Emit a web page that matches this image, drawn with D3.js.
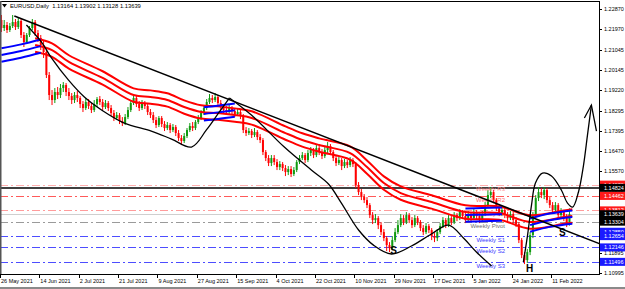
<!DOCTYPE html>
<html>
<head>
<meta charset="utf-8">
<script src="https://cdnjs.cloudflare.com/ajax/libs/d3/7.8.5/d3.min.js"></script>
<style>
body { margin: 0; background: #fff; }
svg { display: block; font-family: "Liberation Sans", Arial, sans-serif; }
</style>
</head>
<body>
<div class="chart"></div>
<script>
// EURUSD daily candles
var symbolTitle = "EURUSD,Daily";
var lastQuote = ["1.13164", "1.13902", "1.13128", "1.13639"];

var dateLabels = ["26 May 2021", "14 Jun 2021", "2 Jul 2021", "21 Jul 2021", "9 Aug 2021", "27 Aug 2021", "15 Sep 2021",
    "4 Oct 2021", "22 Oct 2021", "10 Nov 2021", "29 Nov 2021", "17 Dec 2021", "5 Jan 2022", "24 Jan 2022", "11 Feb 2022"];
var barsPerLabel = 14;

var priceTicks = [1.22870, 1.21970, 1.21045, 1.20145, 1.19220, 1.18295, 1.17395, 1.16470, 1.15570,
    1.14645, 1.13720, 1.12820, 1.11895, 1.10995];

var firstOpen = 1.22375;
var closes = [1.22015,1.22150,1.21925,1.22105,1.22285,1.22060,1.22330,1.21700,1.21385,1.21700,
    1.22015,1.22285,1.21790,1.21565,1.21250,1.20935,1.19900,1.19000,1.18775,1.19135,
    1.19000,1.19315,1.19450,1.19135,1.18955,1.18775,1.19000,1.18865,1.18595,1.18415,
    1.18685,1.18505,1.18325,1.18595,1.18820,1.18685,1.18460,1.18640,1.18415,1.18190,
    1.17965,1.18100,1.17830,1.17740,1.18010,1.18325,1.18640,1.18865,1.18595,1.18415,
    1.18640,1.18505,1.18235,1.18100,1.17875,1.17650,1.17965,1.17695,1.17515,1.17650,
    1.17425,1.17560,1.17290,1.17065,1.16930,1.17155,1.17425,1.17605,1.17515,1.17785,
    1.17965,1.18190,1.18415,1.18685,1.18865,1.18775,1.18910,1.18640,1.18460,1.18325,
    1.18235,1.18415,1.18280,1.18145,1.18235,1.18055,1.17425,1.17290,1.17380,1.17200,
    1.17335,1.17110,1.16975,1.16435,1.16165,1.15940,1.16165,1.15985,1.15760,1.15895,
    1.15715,1.15535,1.15670,1.15445,1.15625,1.15985,1.16165,1.16300,1.16075,1.16390,
    1.16525,1.16300,1.16615,1.16435,1.16255,1.16525,1.16705,1.16435,1.16165,1.15940,
    1.16075,1.15805,1.15985,1.15850,1.16075,1.15895,1.14950,1.14635,1.14410,1.14275,
    1.14050,1.13600,1.13375,1.13465,1.13150,1.12835,1.12565,1.12250,1.12115,1.12475,
    1.12835,1.13150,1.13465,1.13285,1.13600,1.13375,1.13150,1.13465,1.13285,1.13015,
    1.12835,1.13105,1.12925,1.12655,1.12565,1.12835,1.13105,1.13375,1.13150,1.13465,
    1.13285,1.13600,1.13465,1.13735,1.13555,1.13375,1.13645,1.13465,1.13735,1.13555,
    1.13375,1.13645,1.14050,1.14500,1.14635,1.14275,1.13915,1.13690,1.13825,1.13600,
    1.13465,1.13645,1.13375,1.13195,1.12475,1.11800,1.11575,1.11935,1.12700,1.13600,
    1.14365,1.14635,1.14500,1.14725,1.14275,1.14050,1.13825,1.14050,1.13600,1.13735,
    1.13465,1.13164,1.13639];
var highs = [1.22600,1.22375,1.22285,1.22240,1.22600,1.22420,1.22510,1.22420,1.21835,1.21790,
    1.22105,1.22420,1.22375,1.21925,1.21700,1.21475,1.21025,1.20035,1.19225,1.19315,
    1.19360,1.19495,1.19585,1.19540,1.19315,1.19090,1.19135,1.19180,1.18955,1.18730,
    1.18865,1.18820,1.18640,1.18775,1.18910,1.18955,1.18820,1.18775,1.18730,1.18550,
    1.18325,1.18235,1.18190,1.18010,1.18145,1.18460,1.18775,1.19000,1.18955,1.18730,
    1.18775,1.18730,1.18595,1.18370,1.18235,1.18010,1.18055,1.18055,1.17830,1.17785,
    1.17740,1.17695,1.17650,1.17425,1.17200,1.17290,1.17515,1.17740,1.17785,1.17875,
    1.18100,1.18325,1.18550,1.18820,1.19045,1.19000,1.19090,1.19000,1.18775,1.18595,
    1.18505,1.18550,1.18505,1.18415,1.18415,1.18325,1.18145,1.17560,1.17515,1.17470,
    1.17515,1.17425,1.17245,1.17065,1.16525,1.16300,1.16300,1.16300,1.16120,1.16030,
    1.15985,1.15850,1.15805,1.15805,1.15760,1.16075,1.16300,1.16435,1.16390,1.16525,
    1.16660,1.16615,1.16750,1.16705,1.16570,1.16660,1.16885,1.16795,1.16525,1.16300,
    1.16210,1.16165,1.16120,1.16075,1.16210,1.16165,1.15985,1.15085,1.14770,1.14545,
    1.14410,1.14140,1.13735,1.13645,1.13555,1.13285,1.12970,1.12655,1.12385,1.12655,
    1.13015,1.13375,1.13645,1.13600,1.13735,1.13690,1.13510,1.13600,1.13555,1.13375,
    1.13150,1.13240,1.13195,1.13015,1.12790,1.12970,1.13240,1.13510,1.13465,1.13600,
    1.13555,1.13735,1.13690,1.13870,1.13825,1.13690,1.13780,1.13735,1.13870,1.13825,
    1.13690,1.13780,1.14185,1.14725,1.14860,1.14725,1.14365,1.14050,1.13960,1.13915,
    1.13735,1.13780,1.13735,1.13510,1.13285,1.12565,1.11935,1.12070,1.12835,1.13735,
    1.14500,1.14860,1.14815,1.14860,1.14815,1.14410,1.14185,1.14185,1.14140,1.13915,
    1.13825,1.13645,1.13902];
var lows = [1.21835,1.21880,1.21790,1.21835,1.22015,1.21925,1.21970,1.21565,1.21160,1.21295,
    1.21610,1.21925,1.21655,1.21385,1.21025,1.20665,1.19765,1.18775,1.18550,1.18640,
    1.18820,1.18865,1.19135,1.18955,1.18775,1.18595,1.18640,1.18685,1.18415,1.18235,
    1.18325,1.18370,1.18190,1.18235,1.18460,1.18550,1.18325,1.18370,1.18280,1.18055,
    1.17830,1.17875,1.17695,1.17605,1.17650,1.17920,1.18235,1.18550,1.18460,1.18280,
    1.18325,1.18370,1.18100,1.17965,1.17740,1.17515,1.17560,1.17560,1.17380,1.17425,
    1.17290,1.17335,1.17155,1.16930,1.16750,1.16840,1.17065,1.17335,1.17380,1.17425,
    1.17695,1.17875,1.18100,1.18325,1.18595,1.18640,1.18685,1.18505,1.18325,1.18190,
    1.18100,1.18145,1.18145,1.18010,1.18055,1.17920,1.17290,1.17155,1.17200,1.17065,
    1.17110,1.16975,1.16840,1.16300,1.16030,1.15805,1.15805,1.15850,1.15625,1.15625,
    1.15580,1.15355,1.15400,1.15310,1.15355,1.15535,1.15895,1.16075,1.15940,1.15985,
    1.16255,1.16165,1.16210,1.16300,1.16120,1.16165,1.16390,1.16300,1.16030,1.15805,
    1.15850,1.15625,1.15715,1.15715,1.15760,1.15760,1.14815,1.14500,1.14275,1.14140,
    1.13915,1.13465,1.13195,1.13240,1.12970,1.12700,1.12430,1.11980,1.11935,1.12025,
    1.12385,1.12745,1.13060,1.13150,1.13195,1.13240,1.13015,1.13060,1.13150,1.12880,
    1.12700,1.12745,1.12790,1.12475,1.12385,1.12430,1.12745,1.13015,1.13015,1.13060,
    1.13150,1.13195,1.13330,1.13375,1.13420,1.13240,1.13285,1.13330,1.13375,1.13420,
    1.13240,1.13285,1.13555,1.13960,1.14365,1.14140,1.13780,1.13555,1.13555,1.13465,
    1.13330,1.13375,1.13240,1.13060,1.12340,1.11665,1.11395,1.11440,1.11800,1.12565,
    1.13465,1.14230,1.14365,1.14320,1.14140,1.13915,1.13690,1.13735,1.13465,1.13510,
    1.13330,1.13060,1.13128];

// moving average ribbons: [bar, centre price]
var redRibbon = [[12,1.2125],[18,1.2102],[24,1.2049],[36,1.1977],[47,1.1900],[53,1.1891],[59,1.1878],
    [65,1.1846],[71,1.1824],[77,1.1819],[83,1.1810],[89,1.1797],[101,1.1729],[107,1.1698],[113,1.1675],
    [124,1.1639],[130,1.1576],[136,1.1504],[142,1.1459],[153,1.1419],[165,1.1374],[177,1.1369],
    [188,1.1329],[200,1.1351],[203,1.1356]];
var blueRibbons = [
    [[0,1.2080],[7,1.2098],[14,1.2120]],
    [[72,1.1815],[77,1.1822],[83,1.1832]],
    [[165,1.1360],[171,1.1362],[178,1.1364]],
    [[188,1.1315],[195,1.1337],[203,1.1351]]
];
var ribbonGap = 0.0030;

// weekly pivots
var pivotNames = ["Weekly R3", "Weekly R2", "Weekly R1", "Weekly Pivot", "Weekly S1", "Weekly S2", "Weekly S3"];
var pivotValues = [1.14970, 1.14462, 1.13812, 1.13304, 1.12654, 1.12146, 1.11496];
var levelLine = 1.14824;
var bidPrice = 1.13639;
var extraTag = 1.12850;

// hand drawn objects: [bar, price]
var trendLine = [[4.6, 1.22555], [213, 1.12295]];
var curveOne = [[8.9,1.2215],[14.2,1.2139],[17.8,1.2067],[23.8,1.1968],[29.5,1.1891],[35.6,1.1833],
    [43.7,1.1774],[53.3,1.1738],[60.5,1.1702],[67.6,1.1666],[72.9,1.1743],[77.5,1.1824],[81.1,1.1887]];
var curveTwo = [[81.1,1.1887],[88.9,1.1810],[100.6,1.1666],[110.2,1.1563],[116.3,1.1500],[120.9,1.1414],
    [127.0,1.1293],[132.3,1.1225],[138.7,1.1185],[145.8,1.1221],[152.9,1.1275],[159.0,1.1315],
    [164.3,1.1257],[168.9,1.1194],[174.3,1.1131]];
var curveThree = [[185.6,1.1149],[187.1,1.1270],[188.5,1.1405],[189.9,1.1504],[192.4,1.1549],[195.6,1.1536],
    [199.1,1.1473],[201.3,1.1414],[203.1,1.1396],[205.2,1.1464],[207.0,1.1585],[208.4,1.1720],[209.8,1.1855]];
var arrowBarbs = [[[207.3,1.17965],[209.8,1.1855],[211.6,1.1738]]];
var markLetters = ["S", "S", "H"];
var markPoints = [[139.5,1.1201], [199.5,1.1280], [187.8,1.1120]];

var W = 625, H = 289;
var plotRight = 599, plotTop = 1, plotBottom = 274;
var barSlots = 213;
var fs = 5.5;

var svg = d3.select(".chart").append("svg")
    .attr("width", W)
    .attr("height", H)
    .style("background-color", "white");

var x = d3.scaleLinear().domain([0, barSlots]).range([0, plotRight]);
var y = d3.scaleLinear().domain([1.10950, 1.23185]).range([plotBottom, 2]);
var half = x(1) / 2;

svg.append("clipPath").attr("id", "plot")
    .append("rect").attr("x", 0).attr("y", plotTop).attr("width", plotRight).attr("height", plotBottom - plotTop);

var g = svg.append("g").attr("clip-path", "url(#plot)");

//horizontal levels
var pivotColors = ["#ffb0b0", "#ff5a5a", "#ff9c9c", "#9a9a9a", "#4d4dff", "#4d4dff", "#4d4dff"];
g.selectAll(".pivot").data(pivotValues).enter().append("line")
    .attr("x1", 0).attr("x2", plotRight)
    .attr("y1", d => Math.round(y(d)) + 0.5).attr("y2", d => Math.round(y(d)) + 0.5)
    .attr("stroke", (d, i) => pivotColors[i])
    .attr("stroke-width", 1)
    .attr("stroke-dasharray", "8,3,2,3");

g.append("line")
    .attr("x1", 0).attr("x2", plotRight)
    .attr("y1", Math.round(y(bidPrice)) + 0.5).attr("y2", Math.round(y(bidPrice)) + 0.5)
    .attr("stroke", "#cfcfcf").attr("stroke-width", 1);

g.append("line")
    .attr("x1", 0).attr("x2", plotRight)
    .attr("y1", y(levelLine)).attr("y2", y(levelLine))
    .attr("stroke", "#000").attr("stroke-width", 1.5);

//candles
var bars = closes.map(function(c, i) {
    return {i: i, o: i == 0 ? firstOpen : closes[i - 1], h: highs[i], l: lows[i], c: c};
});
var candle = g.selectAll(".bar").data(bars).enter().append("g");
candle.append("line")
    .attr("x1", d => x(d.i) + half).attr("x2", d => x(d.i) + half)
    .attr("y1", d => y(d.h)).attr("y2", d => y(d.l))
    .attr("stroke", d => d.c >= d.o ? "#0f9a0f" : "#ff0000")
    .attr("stroke-width", 1);
candle.append("rect")
    .attr("x", d => x(d.i) + half - 1)
    .attr("width", 2)
    .attr("y", d => y(Math.max(d.o, d.c)))
    .attr("height", d => Math.max(1, Math.abs(y(d.o) - y(d.c))))
    .attr("fill", d => d.c >= d.o ? "#0f9a0f" : "#ff0000");

//pivot captions
var pivotTextColors = ["#ff9090", "#ff6a6a", "#ff8080", "#6e6e6e", "#3c3cff", "#3c3cff", "#3c3cff"];
g.selectAll(".pcap").data(pivotValues).enter().append("text")
    .attr("x", 505)
    .attr("y", d => y(d) + 6)
    .attr("text-anchor", "end")
    .attr("font-size", fs + 0.5)
    .attr("fill", (d, i) => pivotTextColors[i])
    .text((d, i) => pivotNames[i]);

//ribbons
function ribbon(points, color) {
    [-ribbonGap, 0, ribbonGap].forEach(function(off) {
        var line = d3.line()
            .x(d => x(d[0]) + half)
            .y(d => y(d[1] + off))
            .curve(d3.curveCatmullRom);
        g.append("path")
            .datum(points)
            .attr("fill", "none")
            .attr("stroke", color)
            .attr("stroke-width", 2)
            .attr("d", line);
    });
}
ribbon(redRibbon, "#ff0000");
blueRibbons.forEach(function(seg) { ribbon(seg, "#0000ff"); });

//hand drawn lines
var drawLine = d3.line().x(d => x(d[0]) + half).y(d => y(d[1]));
var curveLine = d3.line().x(d => x(d[0]) + half).y(d => y(d[1])).curve(d3.curveCatmullRom);
g.append("path").datum(trendLine).attr("fill", "none").attr("stroke", "#000").attr("stroke-width", 1.5).attr("d", drawLine);
[curveOne, curveTwo, curveThree].forEach(function(c) {
    g.append("path").datum(c).attr("fill", "none").attr("stroke", "#000").attr("stroke-width", 1.3).attr("d", curveLine);
});
arrowBarbs.forEach(function(b) {
    g.append("path").datum(b).attr("fill", "none").attr("stroke", "#000").attr("stroke-width", 1.3).attr("d", drawLine);
});

g.selectAll(".mark").data(markPoints).enter().append("text")
    .attr("x", d => x(d[0]) + half)
    .attr("y", d => y(d[1]) + 3.5)
    .attr("text-anchor", "middle")
    .attr("font-size", 10)
    .attr("font-weight", "bold")
    .attr("fill", "#000")
    .text((d, i) => markLetters[i]);

//header
svg.append("path")
    .attr("d", "M2,4 L7,4 L4.5,7.5 Z")
    .attr("fill", "#000");
svg.append("text")
    .attr("x", 10).attr("y", 7.5)
    .attr("font-size", fs + 0.3)
    .attr("fill", "#000")
    .attr("xml:space", "preserve")
    .text(symbolTitle + "  " + lastQuote.join(" "));

//frame
svg.append("rect")
    .attr("x", 0.5).attr("y", plotTop + 0.5)
    .attr("width", plotRight).attr("height", plotBottom - plotTop)
    .attr("fill", "none").attr("stroke", "#000").attr("stroke-width", 1);
svg.append("line").attr("x1", 0.5).attr("x2", 0.5).attr("y1", plotTop).attr("y2", plotBottom)
    .attr("stroke", "#555").attr("stroke-width", 2);
svg.append("line").attr("x1", 0).attr("x2", W).attr("y1", 288).attr("y2", 288)
    .attr("stroke", "#8a8a8a").attr("stroke-width", 2);

//price axis
var axisG = svg.append("g");
axisG.selectAll(".tick").data(priceTicks).enter().append("line")
    .attr("x1", plotRight + 0.5).attr("x2", plotRight + 3)
    .attr("y1", d => Math.round(y(d)) + 0.5).attr("y2", d => Math.round(y(d)) + 0.5)
    .attr("stroke", "#000");
axisG.selectAll(".lab").data(priceTicks).enter().append("text")
    .attr("x", plotRight + 5)
    .attr("y", d => y(d) + 2)
    .attr("font-size", fs)
    .attr("fill", "#000")
    .text(d => d.toFixed(5));

//price tags
var tagValues = [pivotValues[0], levelLine, pivotValues[1], pivotValues[2], bidPrice, pivotValues[3],
    extraTag, pivotValues[4], pivotValues[5], pivotValues[6]];
var tagKinds = ["r", "k", "r", "r", "k", "k", "b", "b", "b", "b"];
var tagFill = {r: "#ff1a1a", k: "#000", b: "#1a1aff"};
var tag = axisG.selectAll(".tag").data(tagValues).enter().append("g");
tag.append("rect")
    .attr("x", plotRight + 1).attr("y", d => y(d) - 4)
    .attr("width", W - plotRight - 1).attr("height", 8)
    .attr("fill", (d, i) => tagFill[tagKinds[i]]);
tag.append("text")
    .attr("x", plotRight + 5).attr("y", d => y(d) + 2)
    .attr("font-size", fs)
    .attr("fill", "#fff")
    .text(d => d.toFixed(5));

//date axis
var dateG = svg.append("g");
dateG.selectAll(".dt").data(dateLabels).enter().append("line")
    .attr("x1", (d, i) => Math.round(x(i * barsPerLabel)) + 0.5)
    .attr("x2", (d, i) => Math.round(x(i * barsPerLabel)) + 0.5)
    .attr("y1", plotBottom).attr("y2", plotBottom + 4)
    .attr("stroke", "#000");
dateG.selectAll(".dl").data(dateLabels).enter().append("text")
    .attr("x", (d, i) => x(i * barsPerLabel) + 1)
    .attr("y", plotBottom + 8.5)
    .attr("font-size", fs)
    .attr("fill", "#000")
    .text(d => d);
</script>
</body>
</html>
